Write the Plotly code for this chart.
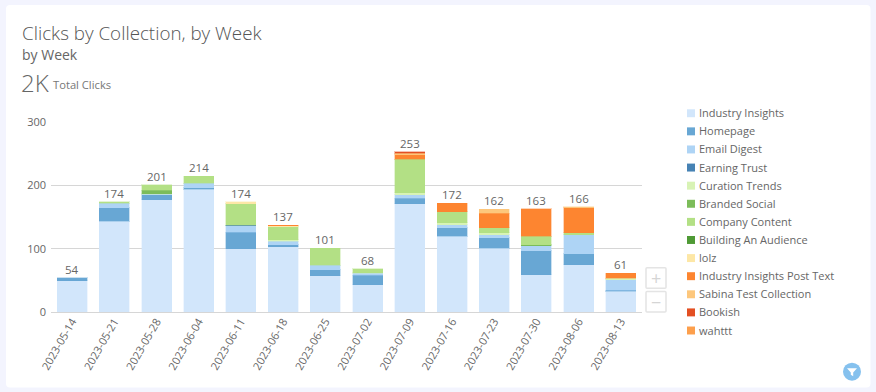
import plotly.graph_objects as go

weeks = ["2023-05-14","2023-05-21","2023-05-28","2023-06-04","2023-06-11","2023-06-18","2023-06-25",
         "2023-07-02","2023-07-09","2023-07-16","2023-07-23","2023-07-30","2023-08-06","2023-08-13"]
totals = [54,174,201,214,174,137,101,68,253,172,162,163,166,61]

industry_insights = [49,143,177,194,100,103,57,43,171,120,101,59,75,33]
homepage          = [5,22,8,2,26,3,10,15,9,13,16,38,17,1]
email_digest      = [0,7,1,7,10,6,7,3,5,5,5,8,30,17]
earning_trust     = [0,0,0,0,1,0,0,0,0,0,0,0,0,0]
curation_trends   = [0,0,1,0,0,2,0,1,3,3,3,0,0,2]
branded_social    = [0,0,5,0,0,0,0,0,0,0,0,1,0,0]
company_content   = [0,2,9,11,34,21,27,6,53,17,8,14,3,0]
building_audience = [0,0,0,0,0,0,0,0,0,0,0,0,0,0]
lolz              = [0,0,0,0,3,1,0,0,0,0,0,0,0,0]
post_text         = [0,0,0,0,0,1,0,0,7,14,23,43,40,8]
sabina            = [0,0,0,0,0,0,0,0,3,0,6,0,1,0]
bookish           = [0,0,0,0,0,0,0,0,2,0,0,0,0,0]
wahttt            = [0,0,0,0,0,0,0,0,0,0,0,0,0,0]

series = [
    ("Industry Insights", industry_insights, "210,230,251"),
    ("Homepage", homepage, "104,167,212"),
    ("Email Digest", email_digest, "174,212,245"),
    ("Earning Trust", earning_trust, "70,130,180"),
    ("Curation Trends", curation_trends, "216,243,181"),
    ("Branded Social", branded_social, "124,188,90"),
    ("Company Content", company_content, "179,224,133"),
    ("Building An Audience", building_audience, "79,154,53"),
    ("lolz", lolz, "253,231,166"),
    ("Industry Insights Post Text", post_text, "253,133,48"),
    ("Sabina Test Collection", sabina, "253,199,124"),
    ("Bookish", bookish, "227,79,34"),
    ("wahttt", wahttt, "253,159,76"),
]

FONT = "Open Sans"
W, H = 876, 392
L, R, T, B = 51, 642, 121.5, 312.5
fx = lambda p: (p - L) / (R - L)
fy = lambda p: (B - p) / (B - T)

fig = go.Figure()
for name, vals, rgb in series:
    fig.add_bar(x=weeks, y=[v if v else None for v in vals], name=name,
                marker=dict(color=f"rgb({rgb})", line=dict(color=f"rgba({rgb},0.35)", width=1)),
                showlegend=False)

shapes = []
annotations = []

# stack totals above the bars
for w, t in zip(weeks, totals):
    annotations.append(dict(x=w, y=t, xref="x", yref="y", text=str(t), showarrow=False, yanchor="bottom",
                            yshift=0, borderpad=0, font=dict(family=FONT, size=11.5, color="#666")))

def rrect(x0, y0, x1, y1, r, **kw):
    X0, X1, Y0, Y1 = fx(x0), fx(x1), fy(y0), fy(y1)
    rx, ry = r / (R - L), r / (B - T)
    path = (f"M{X0+rx},{Y0} L{X1-rx},{Y0} Q{X1},{Y0} {X1},{Y0-ry} L{X1},{Y1+ry} Q{X1},{Y1} {X1-rx},{Y1} "
            f"L{X0+rx},{Y1} Q{X0},{Y1} {X0},{Y1+ry} L{X0},{Y0-ry} Q{X0},{Y0} {X0+rx},{Y0} Z")
    shapes.append(dict(type="path", path=path, xref="paper", yref="paper", layer="below", **kw))

def text(x, y, s, size, color="#555", weight=400, anchor="left"):
    annotations.append(dict(x=fx(x), y=fy(y), xref="paper", yref="paper", text=s, showarrow=False,
                            xanchor=anchor, yanchor="middle", borderpad=0, borderwidth=0,
                            font=dict(family=FONT, size=size, color=color, weight=weight)))

# card
rrect(6, 4, 870.5, 388.5, 4, fillcolor="white", line=dict(width=0))

# headings
text(22, 32, "Clicks by Collection, by Week", 18.8, "#555", 300)
text(22, 54, "by Week", 14, "#666")
text(21, 82, "2K", 24, "#666", 300)
text(53, 84, "Total Clicks", 11.2, "#777")

# legend
for i, (name, vals, rgb) in enumerate(series):
    yc = 112.7 + i * 18.2
    shapes.append(dict(type="rect", xref="paper", yref="paper", x0=fx(687), x1=fx(695), y0=fy(yc-4), y1=fy(yc+4),
                       fillcolor=f"rgb({rgb})", line=dict(width=0), layer="above"))
    text(699, yc - 0.5, name, 11, "#666")

# zoom buttons
for y0, glyph in ((268, "+"), (292, "−")):
    rrect(646, y0, 666, y0 + 20.5, 1, fillcolor="white", line=dict(color="#e4e4e4", width=1.5))
    text(656, y0 + 10, glyph, 18, "#d5d5d5", anchor="center")

# filter button
cx, cy, r = 852, 372.5, 9
shapes.append(dict(type="circle", xref="paper", yref="paper", x0=fx(cx-r), x1=fx(cx+r), y0=fy(cy-r), y1=fy(cy+r),
                   fillcolor="#85c1ee", line=dict(width=0), layer="above"))
funnel = [(cx-5, cy-3.5), (cx+5, cy-3.5), (cx+1.2, cy+0.8), (cx+1.2, cy+4.5), (cx-1.2, cy+3), (cx-1.2, cy+0.8)]
shapes.append(dict(type="path", xref="paper", yref="paper", fillcolor="white", line=dict(width=0), layer="above",
                   path="M" + " L".join(f"{fx(a)},{fy(b)}" for a, b in funnel) + " Z"))

fig.update_layout(
    width=W, height=H, autosize=False, barmode="stack", bargap=0.29,
    margin=dict(l=L, r=W - R, t=T, b=H - B, pad=0),
    paper_bgcolor="#f3f4fe", plot_bgcolor="rgba(0,0,0,0)",
    font=dict(family=FONT, color="#666"),
    shapes=shapes, annotations=annotations, showlegend=False,
    xaxis=dict(type="category", range=[-0.5, 13.5], tickangle=-60, ticks="", showgrid=False,
               showline=False, zeroline=False, tickfont=dict(family=FONT, size=11, color="#666"), automargin=False),
    yaxis=dict(range=[0, 300], tickvals=[0, 100, 200, 300], showgrid=True, gridcolor="#d6d6d6", gridwidth=1,
               zeroline=True, zerolinecolor="#d6d6d6", zerolinewidth=1, showline=False, ticks="",
               ticklabelstandoff=4, tickfont=dict(family=FONT, size=11, color="#666"), automargin=False),
)
fig.write_html("out.html", config=dict(displayModeBar=False),
               post_script="document.body.style.margin='0';document.documentElement.style.overflow='hidden';")
